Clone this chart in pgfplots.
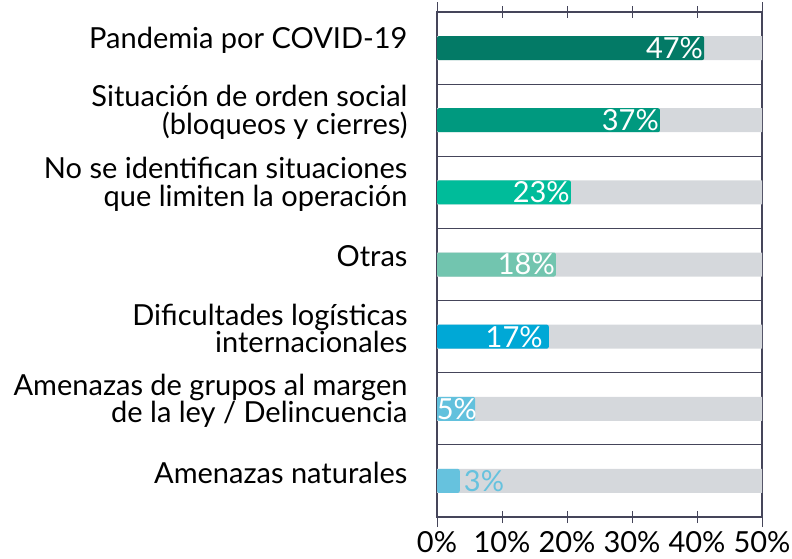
\documentclass[border=0pt]{standalone}
\usepackage{fontspec}
\setmainfont{Lato}
\usepackage{pgfplots}
\pgfplotsset{compat=1.18}
\definecolor{cA}{HTML}{037A66}
\definecolor{cB}{HTML}{00997F}
\definecolor{cC}{HTML}{00BC9A}
\definecolor{cD}{HTML}{72C5AF}
\definecolor{cE}{HTML}{00A8D6}
\definecolor{cF}{HTML}{62C1DD}
\definecolor{cG}{HTML}{66C2DE}
\definecolor{bggray}{HTML}{D5D8DC}
\definecolor{axisline}{HTML}{45455A}
\newcommand{\lblfont}{\fontsize{29}{27.5}\selectfont}

\begin{document}
\begin{tikzpicture}[x=1pt,y=1pt]
\useasboundingbox (0,0) rectangle (792,559);
\begin{axis}[
  at={(437pt,42pt)}, anchor=south west,
  scale only axis, width=325pt, height=505pt,
  xmin=0, xmax=50, ymin=0.5, ymax=7.5, y dir=reverse,
  xbar, bar width=24pt, bar shift=0pt,
  axis line style={axisline, line width=1.1pt},
  xtick={0,10,...,50},
  xticklabel={\pgfmathprintnumber{\tick}\%},
  /pgf/number format/assume math mode=true,
  xticklabel style={font=\lblfont, text=black, yshift=-5pt},
  x tick style={axisline, line width=1pt},
  tick align=center, major tick length=12pt,
  extra x ticks={0,50}, extra x tick labels={},
  extra x tick style={tick align=outside, major tick length=10pt},
  ytick={1,...,7},
  yticklabels={Pandemia por COVID-19,
    {Situación de orden social\\(bloqueos y cierres)},
    {No se identifican situaciones\\que limiten la operación},
    Otras,
    {Dificultades logísticas\\internacionales},
    {Amenazas de grupos al margen\\de la ley / Delincuencia},
    Amenazas naturales},
  yticklabel style={font=\lblfont, align=right, text=black, xshift=-20pt, yshift=8pt},
  y tick style={draw=none},
  minor ytick={1.5,2.5,...,6.5},
  yminorgrids=true,
  minor grid style={axisline, line width=1pt},
  point meta=explicit symbolic,
  nodes near coords style={font=\lblfont, text=white, anchor=east, inner sep=1pt},
]
% background tracks
\addplot[fill=bggray, draw=none] coordinates {(50,1) (50,2) (50,3) (50,4) (50,5) (50,6) (50,7)};
% bars (drawn length as in the picture) with their printed values
\addplot[fill=cA, draw=none, rounded corners=2pt, nodes near coords] coordinates {(41.1,1) [47\%]};
\addplot[fill=cB, draw=none, rounded corners=2pt, nodes near coords] coordinates {(34.3,2) [37\%]};
\addplot[fill=cC, draw=none, rounded corners=2pt, nodes near coords] coordinates {(20.6,3) [23\%]};
\addplot[fill=cD, draw=none, rounded corners=2pt, nodes near coords] coordinates {(18.3,4) [18\%]};
\addplot[fill=cE, draw=none, rounded corners=2pt, nodes near coords,
  nodes near coords style={xshift=-5pt}] coordinates {(17.2,5) [17\%]};
\addplot[fill=cF, draw=none, rounded corners=2pt, nodes near coords,
  nodes near coords style={xshift=3pt}] coordinates {(5.85,6) [5\%]};
\addplot[fill=cG, draw=none, rounded corners=2pt, nodes near coords,
  nodes near coords style={text=cG, anchor=west, xshift=3pt}] coordinates {(3.5,7) [3\%]};
\end{axis}
\end{tikzpicture}
\end{document}
